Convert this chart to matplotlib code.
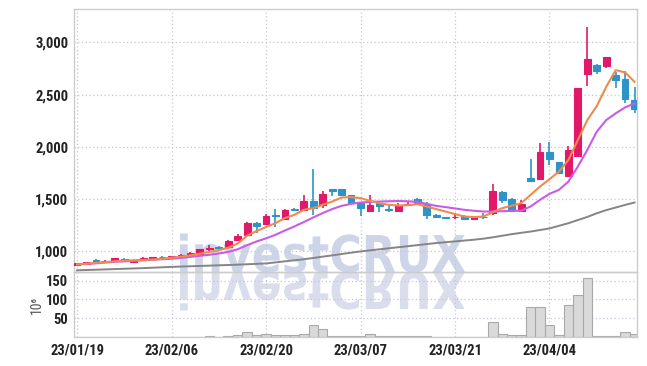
import matplotlib
matplotlib.use("Agg")
import matplotlib.pyplot as plt
from matplotlib.textpath import TextPath
from matplotlib.patches import PathPatch
from matplotlib.font_manager import FontProperties
from matplotlib.transforms import Affine2D
from matplotlib.ticker import FuncFormatter

plt.rcParams['font.family'] = ['Roboto Condensed', 'DejaVu Sans']
plt.rcParams['font.stretch'] = 'condensed'

dates = ["23/01/19", "23/02/06", "23/02/20", "23/03/07", "23/03/21", "23/04/04"]

opens = [870, 880, 921, 900, 911, 930, 899, 918, 927, 950,
         940, 946, 962, 978, 1023, 1045, 1042, 1110, 1157, 1274,
         1258, 1350, 1315, 1408, 1398, 1484, 1446, 1598, 1598, 1538,
         1465, 1391, 1462, 1408, 1391, 1446, 1503, 1455, 1353, 1331,
         1325, 1341, 1306, 1334, 1366, 1570, 1503, 1391, 1701, 1697,
         1952, 1853, 1723, 1914, 2694, 2780, 2776, 2687, 2646, 2448]
highs = [888, 902, 925, 915, 937, 934, 921, 950, 948, 955,
         958, 972, 992, 1022, 1057, 1050, 1106, 1165, 1284, 1280,
         1355, 1405, 1408, 1415, 1538, 1787, 1577, 1600, 1600, 1540,
         1468, 1538, 1465, 1440, 1465, 1478, 1510, 1470, 1358, 1334,
         1372, 1345, 1332, 1365, 1643, 1575, 1508, 1491, 1882, 2035,
         2044, 1860, 2012, 2560, 3148, 2790, 2859, 2718, 2728, 2570]
lows = [866, 876, 898, 896, 908, 910, 896, 915, 924, 940,
        936, 943, 958, 975, 1007, 1028, 1038, 1105, 1150, 1175,
        1250, 1233, 1300, 1392, 1395, 1350, 1414, 1532, 1544, 1462,
        1341, 1380, 1380, 1380, 1388, 1430, 1452, 1312, 1325, 1315,
        1315, 1300, 1300, 1310, 1350, 1462, 1391, 1380, 1670, 1690,
        1825, 1745, 1710, 1910, 2582, 2694, 2751, 2560, 2417, 2327]
closes = [885, 899, 901, 911, 933, 913, 918, 937, 943, 943,
          952, 968, 988, 1019, 1035, 1032, 1102, 1150, 1274, 1248,
          1341, 1340, 1398, 1401, 1484, 1414, 1551, 1582, 1544, 1462,
          1411, 1443, 1430, 1401, 1446, 1455, 1462, 1344, 1331, 1319,
          1331, 1306, 1328, 1325, 1579, 1494, 1391, 1455, 1675, 1949,
          1882, 1748, 1971, 2560, 2837, 2728, 2859, 2639, 2458, 2362]

ma_short = [875, 882, 890, 897, 905, 912, 915, 918, 922, 930,
            940, 950, 962, 978, 995, 1012, 1035, 1075, 1150, 1195,
            1233, 1271, 1319, 1350, 1398, 1414, 1446, 1477, 1516, 1520,
            1510, 1485, 1462, 1446, 1439, 1443, 1452, 1430, 1405, 1382,
            1357, 1334, 1328, 1334, 1375, 1414, 1437, 1462, 1541, 1621,
            1691, 1764, 1875, 2066, 2257, 2391, 2575, 2735, 2713, 2623]
ma_mid = [876, 881, 886, 894, 900, 905, 910, 915, 920, 925,
          930, 938, 948, 958, 968, 980, 995, 1020, 1060, 1095,
          1125, 1159, 1200, 1239, 1281, 1325, 1367, 1405, 1436, 1455,
          1468, 1474, 1477, 1480, 1482, 1480, 1474, 1455, 1436, 1424,
          1411, 1398, 1389, 1382, 1382, 1385, 1388, 1389, 1430, 1494,
          1551, 1589, 1668, 1812, 1971, 2146, 2257, 2321, 2378, 2417]
ma_long = [819, 822, 825, 828, 831, 834, 837, 840, 844, 848,
           852, 855, 858, 861, 864, 867, 870, 873, 877, 881,
           885, 895, 905, 915, 925, 937, 950, 962, 975, 988,
           1000, 1010, 1020, 1030, 1040, 1050, 1060, 1070, 1080, 1088,
           1096, 1104, 1112, 1122, 1135, 1150, 1165, 1178, 1190, 1205,
           1220, 1245, 1270, 1300, 1330, 1365, 1395, 1420, 1445, 1468]
volume = [0.5, 0.5, 0.5, 0.5, 0.5, 0.5, 0.5, 0.5, 0.5, 0.5,
          0.5, 0.5, 0.5, 1, 2, 1, 3, 4, 12, 5,
          7, 5, 6, 4, 7, 31, 20, 2, 2, 2,
          3, 9, 3, 2, 2, 3, 3, 2, 1, 1,
          1, 1, 1, 1, 39, 9, 6, 6, 79, 79,
          33, 6, 84, 111, 157, 3, 3, 3, 12, 9]

up_col = "#e2196a"
down_col = "#2f93c8"
grid_col = "#c3c6d8"
spine_col = "#cccccc"
label_col = "#222222"

fig = plt.figure(figsize=(6.47, 3.66), dpi=100)
fig.patch.set_facecolor("white")
gs = fig.add_gridspec(2, 1, height_ratios=[263, 65], hspace=0,
                      left=74/647, right=637/647, top=1-9/366, bottom=1-337/366)
ax = fig.add_subplot(gs[0])
axv = fig.add_subplot(gs[1], sharex=ax)

x = list(range(len(opens)))

# watermark + reflection, under the axes
fp = FontProperties(family="DejaVu Sans", weight="bold")
tp = TextPath((0, 0), "investCRUX", size=1, prop=fp)
bb = tp.get_extents()
sx = 285 / bb.width
sy = 37 / 0.73
base_y = 366 - 272
tr_main = Affine2D().translate(-bb.x0, 0).scale(sx, sy).translate(180, base_y)
tr_ref = Affine2D().translate(-bb.x0, 0).scale(sx, -sy).translate(180, base_y)
fig.add_artist(PathPatch(tp, transform=tr_main, facecolor="#cfd5e8", edgecolor="none", zorder=-1))
fig.add_artist(PathPatch(tp, transform=tr_ref, facecolor="#d9ddec", edgecolor="none", zorder=-1))

for a in (ax, axv):
    a.set_facecolor("none")
    for s in a.spines.values():
        s.set_color(spine_col)
        s.set_linewidth(1.0)
    a.grid(True, linestyle=(0, (1, 2)), color=grid_col, linewidth=0.9)
    a.set_axisbelow(True)
    a.tick_params(length=0, labelsize=10.5, labelcolor=label_col, pad=4)

# candles
for i in x:
    o, h, l, c = opens[i], highs[i], lows[i], closes[i]
    col = up_col if c >= o else down_col
    ax.vlines(i, l, h, color=col, linewidth=1.2, zorder=3)
    ax.bar(i, abs(c - o), bottom=min(o, c), width=0.72, color=col,
           edgecolor=col, linewidth=0.8, zorder=4)

ax.plot(x, ma_long, color="#858585", linewidth=1.4, zorder=2)
ax.plot(x, ma_mid, color="#c95ce6", linewidth=1.5, zorder=5)
ax.plot(x, ma_short, color="#f08a4e", linewidth=1.5, zorder=6)

ax.set_xlim(-0.32, 59.26)
ax.set_ylim(803, 3320)
ax.set_yticks([1000, 1500, 2000, 2500, 3000])
ax.yaxis.set_major_formatter(FuncFormatter(lambda v, p: f"{int(v):,}"))
for t in ax.get_yticklabels():
    t.set_fontweight("bold")
plt.setp(ax.get_xticklabels(), visible=False)

axv.bar(x, volume, width=1.0, color="#d9d9d9", edgecolor="#a9a9a9", linewidth=0.8, zorder=2)
axv.set_ylim(0, 173)
axv.set_yticks([50, 100, 150])
axv.set_xticks([0, 10, 20, 30, 40, 50])
axv.set_xticklabels(dates)
axv.tick_params(axis="x", pad=5)
for t in axv.get_yticklabels() + axv.get_xticklabels():
    t.set_fontweight("bold")
axv.set_ylabel("10⁶", color="#555555", fontsize=10, labelpad=2)

fig.savefig("out.png", dpi=100)
